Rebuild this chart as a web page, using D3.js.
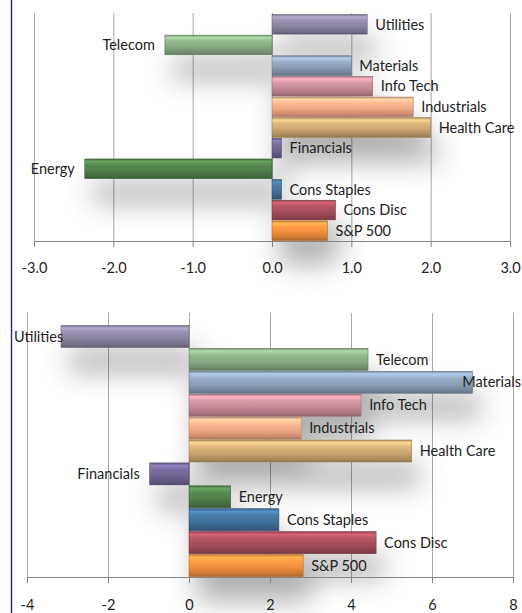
<!DOCTYPE html>
<html>
<head>
<meta charset="utf-8">
<script src="https://cdn.jsdelivr.net/npm/d3@7"></script>
<style>
  html, body { margin: 0; padding: 0; background: #fff; }
  svg { display: block; }
  text { font-family: Lato, "Open Sans", sans-serif; fill: #222; }
</style>
</head>
<body>
<svg id="chart" width="522" height="613"></svg>
<script>
const categories = ["Utilities", "Telecom", "Materials", "Info Tech", "Industrials", "Health Care",
                    "Financials", "Energy", "Cons Staples", "Cons Disc", "S&P 500"];
const valuesTop = [1.2, -1.35, 1.0, 1.27, 1.78, 2.0, 0.12, -2.36, 0.12, 0.8, 0.7];
const valuesBottom = [-3.16, 4.42, 7.0, 4.25, 2.77, 5.5, -0.97, 1.03, 2.22, 4.62, 2.82];
const ticksTop = [-3, -2, -1, 0, 1, 2, 3];
const ticksBottom = [-4, -2, 0, 2, 4, 6, 8];
const colors = ["#8a83a0", "#86a882", "#8a9db5", "#c48a96", "#f0a783", "#c9a570",
                "#6f6392", "#4f7e4b", "#41709a", "#a44c5c", "#ee8c3c"];

const FONT = 'Lato, "Open Sans", sans-serif';
const svg = d3.select("#chart");
const W = 522, H = 613;
svg.append("rect").attr("width", W).attr("height", H).attr("fill", "#fff");

const defs = svg.append("defs");
colors.forEach((c, i) => {
  const base = d3.color(c);
  const g = defs.append("linearGradient").attr("id", "grad" + i)
    .attr("x1", 0).attr("y1", 0).attr("x2", 0).attr("y2", 1);
  const stops = [
    [0, base.darker(0.4)],
    [0.12, base.brighter(0.75)],
    [0.3, base.brighter(0.3)],
    [0.6, base],
    [0.88, base.darker(0.5)],
    [1, base.darker(0.95)]
  ];
  stops.forEach(([o, col]) => g.append("stop").attr("offset", o).attr("stop-color", col.formatHex()));
});
const f = defs.append("filter").attr("id", "shadow")
  .attr("x", "-25%").attr("y", "-25%").attr("width", "160%").attr("height", "170%");
f.append("feGaussianBlur").attr("in", "SourceAlpha").attr("stdDeviation", 14).attr("result", "b");
f.append("feOffset").attr("in", "b").attr("dx", 8).attr("dy", 24).attr("result", "o");
f.append("feComponentTransfer").attr("in", "o").attr("result", "s")
  .append("feFuncA").attr("type", "linear").attr("slope", 0.32);
const fm = f.append("feMerge");
fm.append("feMergeNode").attr("in", "s");
fm.append("feMergeNode").attr("in", "SourceGraphic");

// left border line
svg.append("line").attr("x1", 11.5).attr("x2", 11.5).attr("y1", 0).attr("y2", H)
  .attr("stroke", "#24248e").attr("stroke-width", 1.4);

function panel(cfg) {
  const x = d3.scaleLinear().domain(cfg.domain).range(cfg.xRange);
  const y = d3.scaleBand().domain(categories).range(cfg.yRange).paddingInner(cfg.pad).paddingOuter(cfg.pad / 2);
  const g = svg.append("g");

  // gridlines
  g.selectAll(".grid").data(cfg.ticks).join("line")
    .attr("x1", d => x(d) + 0.5).attr("x2", d => x(d) + 0.5)
    .attr("y1", cfg.gridTop).attr("y2", cfg.yRange[1])
    .attr("stroke", "#a8a8a8").attr("stroke-width", 1);

  // bars
  const data = categories.map((c, i) => ({ c, v: cfg.values[i], i }));
  const bars = g.append("g").attr("filter", "url(#shadow)");
  bars.selectAll("rect").data(data).join("rect")
    .attr("x", d => Math.min(x(0), x(d.v)))
    .attr("width", d => Math.abs(x(d.v) - x(0)))
    .attr("y", d => y(d.c))
    .attr("height", y.bandwidth())
    .attr("fill", d => `url(#grad${d.i})`)
    .attr("stroke", d => d3.color(colors[d.i]).darker(0.8).formatHex())
    .attr("stroke-width", 0.6);

  // axis
  const axis = d3.axisBottom(x).tickValues(cfg.ticks).tickFormat(cfg.fmt)
    .tickSize(6).tickSizeOuter(0).tickPadding(cfg.tickPad);
  const ag = g.append("g").attr("transform", `translate(0,${cfg.yRange[1]})`).call(axis);
  ag.select(".domain").attr("stroke", "#858585");
  ag.selectAll(".tick line").attr("stroke", "#858585");
  ag.selectAll(".tick text").attr("font-size", 14.5).attr("fill", "#222").attr("font-family", FONT);

  // category labels
  const lab = g.selectAll(".lab").data(data).join("text")
    .attr("font-size", 14.5)
    .attr("font-family", FONT)
    .attr("dy", "0.36em")
    .attr("y", d => y(d.c) + y.bandwidth() / 2)
    .text(d => d.c);
  lab.each(function(d) {
    const w = this.getComputedTextLength();
    let sx;
    if (d.v >= 0) sx = x(d.v) + 8;
    else sx = x(d.v) - 10 - w;
    sx = Math.max(14, Math.min(W - 1 - w, sx));
    d3.select(this).attr("x", sx);
  });
}

panel({
  domain: [-3, 3], xRange: [34, 510], yRange: [14, 241], gridTop: 13, pad: 0.05,
  values: valuesTop, ticks: ticksTop, fmt: d => d.toFixed(1), tickPad: 16
});
panel({
  domain: [-4, 8], xRange: [27, 513], yRange: [325, 577], gridTop: 313, pad: 0.04,
  values: valuesBottom, ticks: ticksBottom, fmt: d => String(d), tickPad: 17
});
</script>
</body>
</html>
